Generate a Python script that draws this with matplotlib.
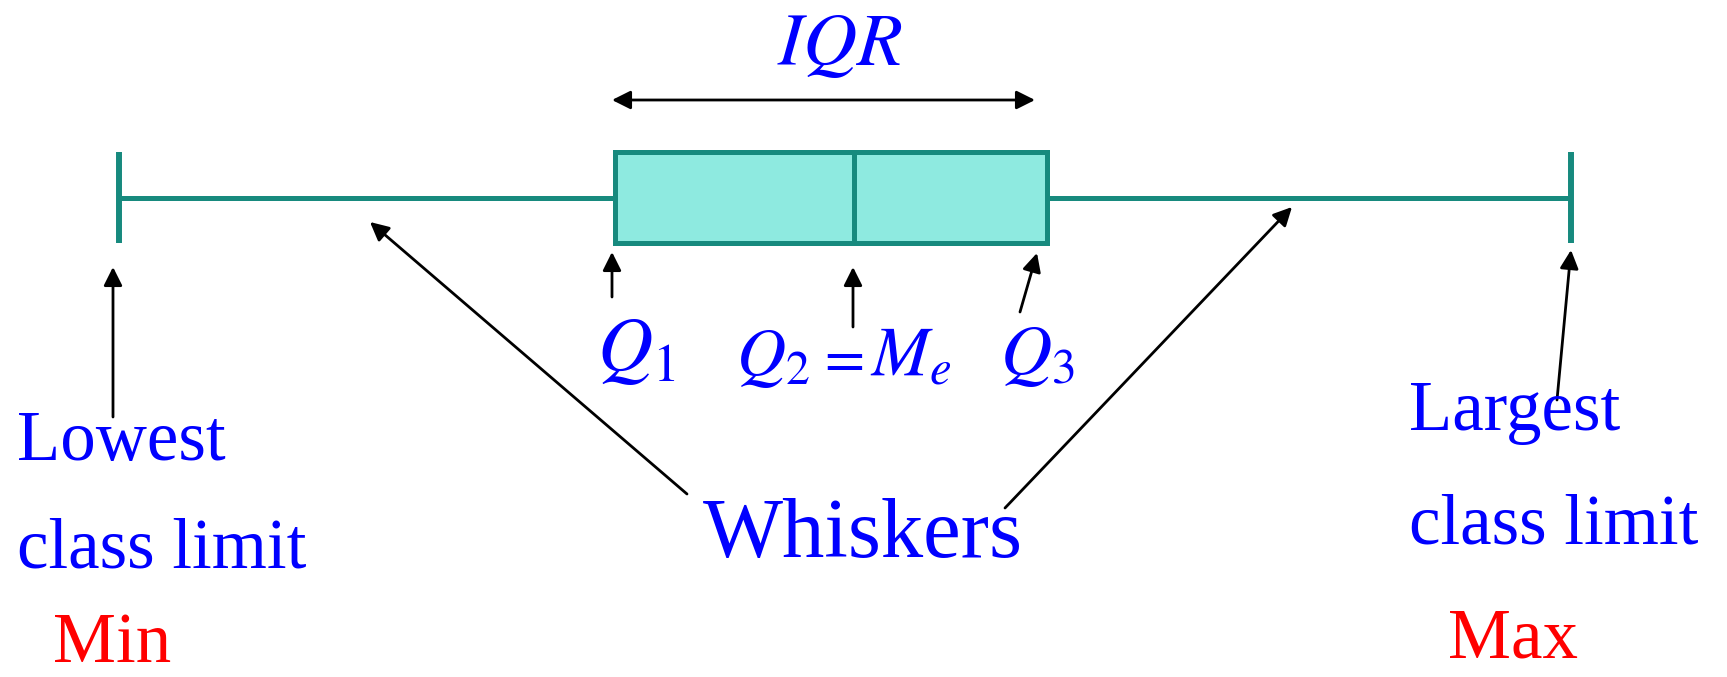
import matplotlib.pyplot as plt

plt.rcParams['font.family'] = ['Liberation Serif', 'DejaVu Serif']
plt.rcParams['mathtext.fontset'] = 'stix'

# five-number summary, in drawing units along x
stat_keys = ['whislo', 'q1', 'med', 'q3', 'whishi']
stat_vals = [119, 615, 854, 1047, 1571]

# text labels
left_lines = ['Lowest', 'class limit']
right_lines = ['Largest', 'class limit']
min_label = 'Min'
max_label = 'Max'
whisker_label = 'Whiskers'
iqr_label = r'$IQR$'
q2_parts = [r'$Q_2$', r'$=$', r'$M_e$']

teal = '#178a7e'
fill = '#8eeae0'
blue = '#0000ff'
red = '#ff0000'

fig = plt.figure(figsize=(17.27, 6.77), dpi=100)
ax = fig.add_axes([0, 0, 1, 1])

stats = [dict(zip(stat_keys, stat_vals), fliers=[])]
lw = 3.6
ax.bxp(stats, positions=[197.5], widths=91, capwidths=91,
       orientation='horizontal', patch_artist=True, showfliers=False,
       boxprops=dict(facecolor=fill, edgecolor=teal, linewidth=lw),
       whiskerprops=dict(color=teal, linewidth=lw, solid_capstyle='butt'),
       capprops=dict(color=teal, linewidth=4.3, solid_capstyle='butt'),
       medianprops=dict(color=teal, linewidth=lw, solid_capstyle='butt'))

ax.set_xlim(0, 1727)
ax.set_ylim(677, 0)
ax.axis('off')

arrow = dict(arrowstyle='-|>,head_length=0.4,head_width=0.2', color='black',
             lw=2, shrinkA=0, shrinkB=0, mutation_scale=28)

whislo, q1, med, q3, whishi = stat_vals

# IQR span arrow
ax.annotate('', xy=(q3 - 12, 100), xytext=(q1 - 3, 100),
            arrowprops=dict(arrow, arrowstyle='<|-|>,head_length=0.4,head_width=0.2'))
ax.text(777, 65, iqr_label, color=blue, fontsize=54, ha='left', va='baseline')

# pointers to the summary values
ax.annotate('', xy=(whislo - 6, 267), xytext=(whislo - 6, 417), arrowprops=arrow)
ax.annotate('', xy=(q1 - 3, 252), xytext=(q1 - 3, 297), arrowprops=arrow)
ax.annotate('', xy=(med - 1, 267), xytext=(med - 1, 327), arrowprops=arrow)
ax.annotate('', xy=(q3 - 10, 253), xytext=(q3 - 27, 312), arrowprops=arrow)
ax.annotate('', xy=(whishi, 250), xytext=(whishi - 14, 400), arrowprops=arrow)

# whisker pointers
ax.annotate('', xy=(370, 222), xytext=(687, 494), arrowprops=arrow)
ax.annotate('', xy=(1292, 207), xytext=(1005, 508), arrowprops=arrow)

# quartile labels
ax.text(597, 371, r'$Q_1$', color=blue, fontsize=55, ha='left', va='baseline')
for txt, x0, fs in zip(q2_parts, [736, 816, 870], [49, 42, 50]):
    ax.text(x0, 375, txt, color=blue, fontsize=fs, ha='left', va='baseline')
ax.text(1000, 374, r'$Q_3$', color=blue, fontsize=51, ha='left', va='baseline')

# end labels
for txt, yb in zip(left_lines, [460, 567]):
    ax.text(17, yb, txt, color=blue, fontsize=51, ha='left', va='baseline')
ax.text(53, 662, min_label, color=red, fontsize=51, ha='left', va='baseline')
for txt, yb in zip(right_lines, [430, 543]):
    ax.text(1409, yb, txt, color=blue, fontsize=51, ha='left', va='baseline')
ax.text(1448, 657, max_label, color=red, fontsize=51, ha='left', va='baseline')

ax.text(703, 557, whisker_label, color=blue, fontsize=61, ha='left', va='baseline')

plt.savefig('out.png', dpi=100)
plt.close('all')
